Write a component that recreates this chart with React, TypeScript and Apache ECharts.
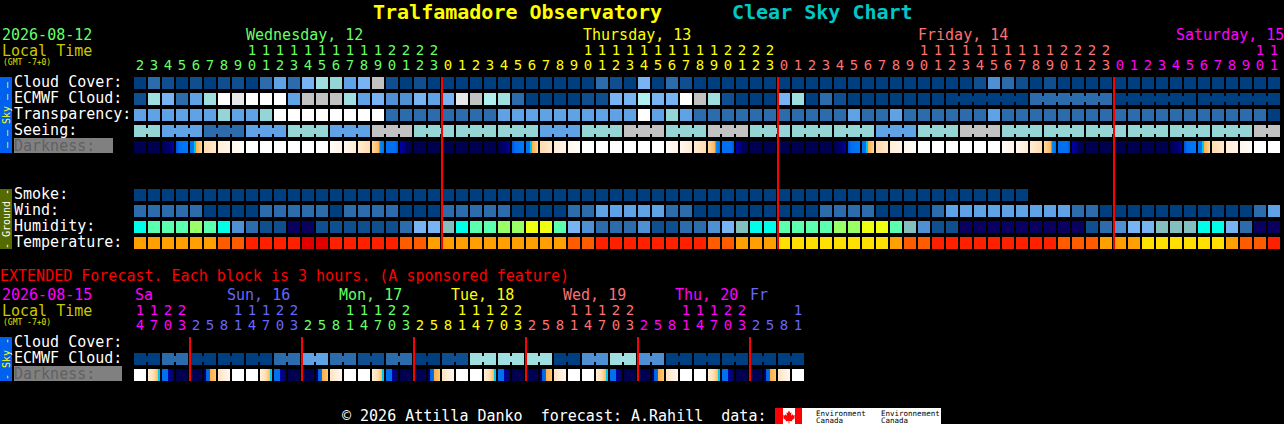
import React, { useEffect, useRef } from "react";
import * as echarts from "echarts";

// ---- main forecast: hourly values, index into cellFills ----
const mainHours = [
  2,3,4,5,6,7,8,9,10,11,12,13,14,15,16,17,18,19,20,21,22,23,
  0,1,2,3,4,5,6,7,8,9,10,11,12,13,14,15,16,17,18,19,20,21,22,23,
  0,1,2,3,4,5,6,7,8,9,10,11,12,13,14,15,16,17,18,19,20,21,22,23,
  0,1,2,3,4,5,6,7,8,9,10,11,
];
const mainDayLengths = [22, 24, 24, 12];
const mainDayColors = ["#66ff66", "#ffff00", "#ff7070", "#ff00ff"];
const mainRows = ["Cloud Cover:", "ECMWF Cloud:", "Transparency:", "Seeing:", "Darkness:", "", "", "Smoke:", "Wind:", "Humidity:", "Temperature:"];

const cloudCover = [
  0,2,1,0,1,0,1,1,0,2,4,2,5,7,6,4,5,9,1,0,1,0,
  0,0,0,0,0,0,0,0,0,0,0,2,1,0,5,0,2,1,0,0,0,0,0,0,
  0,0,0,0,0,0,0,0,0,0,0,0,0,0,1,3,2,1,0,1,0,0,0,0,
  0,0,0,0,0,0,0,0,0,0,0,0,
];
const ecmwfCloud = [
  1,7,5,2,4,7,11,10,11,11,11,4,9,9,9,7,4,5,3,3,5,4,
  5,10,9,8,7,2,0,0,0,0,1,1,5,5,8,5,5,11,9,7,1,0,0,0,
  5,7,0,2,1,0,0,0,0,0,0,0,0,0,0,0,0,0,2,2,2,2,2,2,
  0,0,0,0,0,0,0,0,0,0,0,0,
];
const transparency = [
  4,4,4,4,4,4,6,4,4,6,11,11,11,11,11,11,11,11,2,2,2,2,
  2,2,2,2,4,4,4,4,4,4,4,4,4,4,11,4,6,4,2,2,2,2,2,2,
  2,2,2,2,2,4,2,2,4,2,2,2,2,2,2,4,2,2,2,2,2,2,2,2,
  2,2,2,2,2,2,2,2,2,2,2,0,
];
const seeing = [
  6,6,4,4,4,2,2,2,4,4,4,6,6,6,4,4,4,9,9,9,6,6,
  6,6,6,6,6,6,6,4,4,4,6,6,6,9,9,9,6,6,6,9,9,9,6,6,
  6,6,6,6,6,6,6,4,4,4,6,6,6,9,9,9,6,6,6,6,6,6,6,6,
  6,6,6,6,6,6,6,6,6,6,9,9,
];
const darkness = [
  23,23,24,25,26,27,28,29,30,30,30,30,30,30,31,32,33,34,35,36,23,23,
  23,23,23,23,24,25,26,27,28,29,30,30,30,30,30,30,31,32,33,34,35,36,23,23,
  23,23,23,23,24,25,26,27,28,29,30,30,30,30,30,30,31,32,33,34,35,36,23,23,
  23,23,23,23,24,25,26,27,28,29,30,30,
];
const smoke = [
  0,0,0,0,0,0,0,0,0,0,0,0,0,0,0,0,0,0,0,0,0,0,
  0,0,0,0,0,0,0,0,0,0,0,0,0,0,0,0,0,0,0,0,0,0,0,0,
  0,0,0,0,0,0,0,0,0,0,0,0,0,0,0,0,0,0,
];
const wind = [
  2,2,2,2,2,0,0,0,0,2,2,2,2,2,0,2,2,2,2,0,0,0,
  2,2,2,2,2,0,0,0,0,2,2,4,4,4,4,4,2,2,0,0,0,0,0,0,
  0,0,0,2,2,2,2,0,0,0,0,2,4,4,4,4,4,4,4,4,4,2,2,0,
  0,0,0,0,0,0,0,0,0,0,2,4,
];
const humidity = [
  13,14,14,14,15,14,13,3,2,1,1,12,12,1,1,1,1,1,1,2,5,5,
  17,13,14,14,15,15,16,16,14,5,3,2,2,2,3,1,1,2,2,3,5,17,13,13,
  14,14,14,14,15,15,16,16,14,17,3,1,1,12,12,12,12,12,12,12,12,12,1,2,
  3,5,5,17,17,17,13,13,5,2,12,12,
];
const temperature = [
  18,18,18,18,18,18,19,19,20,20,20,20,21,21,20,20,20,20,20,19,19,18,
  18,18,18,18,18,18,18,18,18,19,19,20,20,20,20,20,20,20,20,19,19,18,18,18,
  22,22,22,22,22,22,22,22,18,19,19,20,20,20,20,20,20,20,20,20,19,19,19,18,
  18,18,22,22,22,22,22,22,18,19,19,20,
];
const seeingBlockStarts = [0,2,5,8,11,14,17,20,23,26,29,32,35,38,41,44,47,50,53,56,59,62,65,68,71,74,77,80];
const ecmwfBlockStarts = [58,64,70,76];
const midnightColumns = [22,46,70];

// ---- extended forecast: 3-hourly values ----
const extHours = [
  14,17,20,23,
  2,5,8,11,14,17,20,23,
  2,5,8,11,14,17,20,23,
  2,5,8,11,14,17,20,23,
  2,5,8,11,14,17,20,23,
  2,5,8,11,14,17,20,23,
  2,5,8,11,
];
const extDayLengths = [4,8,8,8,8,8,4];
const extDayColors = ["#ff00ff", "#6666ff", "#66ff66", "#ffff00", "#ff7070", "#ff00ff", "#6666ff"];
const extRows = ["Cloud Cover:", "ECMWF Cloud:", "Darkness:"];
const extEcmwf = [
  0,0,2,2,0,0,0,0,0,0,2,2,4,4,2,2,1,1,2,2,0,0,1,1,
  7,7,7,7,7,7,0,0,3,3,7,7,3,3,0,0,0,0,0,0,0,0,0,0,
];
const extDarkness = [
  30,37,38,23,23,39,40,30,30,37,38,23,23,39,40,30,30,37,38,23,23,39,40,30,
  30,37,38,23,23,39,40,30,30,37,38,23,23,39,40,30,30,37,38,23,23,39,40,30,
];
const extBlockStarts = [0,2,4,6,8,10,12,14,16,18,20,22,24,26,28,30,32,34,36,38,40,42,44,46];
const extMidnightColumns = [4,12,20,28,36,44];

// ---- labels ----
const mainDayLabels = [
  { text: "Wednesday, 12", x: 246, color: "#66ff66" },
  { text: "Thursday, 13", x: 583, color: "#ffff00" },
  { text: "Friday, 14", x: 918, color: "#ff7070" },
  { text: "Saturday, 15", x: 1176, color: "#ff00ff" },
];
const extDayLabels = [
  { text: "Sa", x: 135, color: "#ff00ff" },
  { text: "Sun, 16", x: 227, color: "#6666ff" },
  { text: "Mon, 17", x: 339, color: "#66ff66" },
  { text: "Tue, 18", x: 451, color: "#ffff00" },
  { text: "Wed, 19", x: 563, color: "#ff7070" },
  { text: "Thu, 20", x: 675, color: "#ff00ff" },
  { text: "Fr", x: 750, color: "#6666ff" },
];

// ---- colours ----
type Stop = [number, string];
const cellFills: (string | Stop[])[] = [
  "#003f7f", "#0f4f8f", "#2c6cad", "#4e90d3", "#5fa2e6", "#78b4f4", "#95d5d5", "#9fdfdf", "#afefef", "#c2c2c2", "#e8e8e8", "#ffffff",
  "#0a0060", "#00ffe8", "#5affb0", "#99ff66", "#eeff11", "#84bfbf",
  "#ffa000", "#ff5c00", "#ff2000", "#e00000", "#ffe000",
  "#000050",
  [[0, "#000050"], [0.6, "#000070"], [1, "#0000a8"]],
  [[0, "#0050d8"], [0.25, "#0070f0"], [1, "#0078f4"]],
  [[0, "#0070f0"], [0.36, "#0078f0"], [0.37, "#00c4f0"], [0.5, "#00c8f0"], [0.51, "#ffb040"], [0.75, "#ffc070"], [1, "#ffd8a0"]],
  [[0, "#ffdcb0"], [1, "#ffe8c8"]],
  [[0, "#ffeed8"], [1, "#fff4e6"]],
  [[0, "#fff6ec"], [1, "#fffcf8"]],
  "#ffffff",
  [[0, "#fffcf8"], [1, "#fff4e8"]],
  [[0, "#fff8f0"], [1, "#ffecd4"]],
  [[0, "#ffecd0"], [1, "#ffdcb0"]],
  [[0, "#ffd8a0"], [0.4, "#ffc070"], [0.62, "#ffb040"], [0.63, "#0090f0"], [1, "#0070f0"]],
  [[0, "#0070f0"], [0.8, "#0070f0"], [1, "#0050d8"]],
  [[0, "#0000a8"], [0.3, "#000090"], [0.5, "#000060"], [1, "#000050"]],
  [[0, "#fff0dc"], [0.5, "#ffdcb0"], [0.75, "#ffc070"], [0.85, "#ffb040"], [0.86, "#00c8e0"], [1, "#00c8f0"]],
  [[0, "#0070f0"], [0.5, "#0070f0"], [0.52, "#0000a0"], [1, "#000060"]],
  [[0, "#000060"], [0.16, "#000060"], [0.17, "#0060e8"], [0.5, "#0070f0"], [0.51, "#ffb040"], [1, "#ffc878"]],
  [[0, "#ffe4c0"], [1, "#fff8f0"]],
];

const MONO = '"DejaVu Sans Mono"';

function dayColorList(lengths: number[], colors: string[]) {
  const out: string[] = [];
  lengths.forEach((n, i) => {
    for (let k = 0; k < n; k++) out.push(colors[i]);
  });
  return out;
}

function joinedSet(starts: number[], total: number) {
  const set = new Set<number>();
  starts.forEach((s, i) => {
    const end = i + 1 < starts.length ? starts[i + 1] : total;
    for (let c = s; c < end - 1; c++) set.add(c);
  });
  return set;
}

function rowData(values: number[], row: number, joined?: Set<number>) {
  return values.map((v, c) => [c, row, v, joined && joined.has(c) ? 1 : 0]);
}

function renderCell(_: any, api: any) {
  const col = api.value(0);
  const row = api.value(1);
  const spec = cellFills[api.value(2)];
  const fill =
    typeof spec === "string"
      ? spec
      : new echarts.graphic.LinearGradient(0, 0, 1, 0, spec.map(([offset, color]) => ({ offset, color })));
  const [cx, cy] = api.coord([col, row]);
  const [bw, bh] = api.size([1, 1]);
  const children: any[] = [
    { type: "rect", shape: { x: cx - bw / 2 + 1, y: cy - bh / 2 + 2, width: bw - 2, height: bh - 4 }, style: { fill } },
  ];
  if (api.value(3)) {
    children.push({ type: "rect", shape: { x: cx + bw / 2 - 1, y: cy - 3, width: 2, height: 6 }, style: { fill } });
  }
  return { type: "group", children };
}

function redLineRenderer(lastRow: number) {
  return (_: any, api: any) => {
    const col = api.value(0);
    const [cx, top] = api.coord([col, 0]);
    const [, bottom] = api.coord([col, lastRow]);
    const [bw, bh] = api.size([1, 1]);
    return {
      type: "rect",
      shape: { x: cx - bw / 2, y: top - bh / 2 + 2, width: 2, height: bottom - top + bh - 4 },
      style: { fill: "#ff0000" },
    };
  };
}

function text(t: string, x: number, y: number, fill: string, size = 15, weight = "normal") {
  return {
    type: "text",
    x,
    y,
    silent: true,
    style: { text: t, fill, font: `${weight} ${size}px ${MONO}`, align: "left", verticalAlign: "middle" },
  };
}

function vText(t: string, x: number, y: number, fill: string) {
  return {
    type: "text",
    x,
    y,
    rotation: Math.PI / 2,
    silent: true,
    style: { text: t, fill, font: `normal 10px ${MONO}`, align: "center", verticalAlign: "middle" },
  };
}

function box(x: number, y: number, width: number, height: number, fill: string) {
  return { type: "rect", silent: true, shape: { x, y, width, height }, style: { fill } };
}

function xAxisFor(hours: number[], colors: string[], gridIndex: number) {
  return {
    type: "category",
    gridIndex,
    position: "top",
    data: hours.map(String),
    axisLine: { show: false },
    axisTick: { show: false },
    splitLine: { show: false },
    axisLabel: {
      interval: 0,
      margin: 3,
      fontFamily: MONO,
      fontSize: 14,
      lineHeight: 15,
      color: (_: any, i: number) => colors[i],
      formatter: (v: string) => (v.length > 1 ? `${v[0]}\n${v[1]}` : v),
    },
  };
}

function yAxisFor(rows: string[], gridIndex: number) {
  return {
    type: "category",
    gridIndex,
    inverse: true,
    data: rows,
    axisLine: { show: false },
    axisTick: { show: false },
    splitLine: { show: false },
    axisLabel: {
      interval: 0,
      margin: 119,
      align: "left",
      verticalAlign: "bottom",
      lineHeight: 3,
      fontFamily: MONO,
      fontSize: 15,
      color: (v: string) => (v === "Darkness:" ? "#606060" : "#ffffff"),
    },
  };
}

function cellSeries(axisIndex: number, data: any[]) {
  return {
    type: "custom",
    xAxisIndex: axisIndex,
    yAxisIndex: axisIndex,
    silent: true,
    clip: false,
    encode: { x: 0, y: 1 },
    renderItem: renderCell,
    data,
    z: 2,
  };
}

function lineSeries(axisIndex: number, columns: number[], lastRow: number) {
  return {
    type: "custom",
    xAxisIndex: axisIndex,
    yAxisIndex: axisIndex,
    silent: true,
    clip: false,
    encode: { x: 0, y: 1 },
    renderItem: redLineRenderer(lastRow),
    data: columns.map((c) => [c, 0]),
    z: 5,
  };
}

const leafPoints = [
  [789,410.5],[790.3,413],[791.6,412.4],[791,415.7],[792.8,414.3],[793.3,415.5],[795,415.2],[794.3,417.5],[795,418],
  [792,420.3],[792.3,421.3],[789.4,421],[789.4,423.5],[788.6,423.5],[788.6,421],[785.7,421.3],[786,420.3],[783,418],
  [783.7,417.5],[783,415.2],[784.7,415.5],[785.2,414.3],[787,415.7],[786.4,412.4],[787.7,413],
];

export default function App() {
  const ref = useRef<HTMLDivElement>(null);
  useEffect(() => {
    document.body.style.margin = "0";
    document.body.style.background = "#000";
    const chart = echarts.init(ref.current!, undefined, { renderer: "svg" });
    const mainCells = [
      ...rowData(cloudCover, 0),
      ...rowData(ecmwfCloud, 1, joinedSet(ecmwfBlockStarts, ecmwfCloud.length)),
      ...rowData(transparency, 2),
      ...rowData(seeing, 3, joinedSet(seeingBlockStarts, seeing.length)),
      ...rowData(darkness, 4),
      ...rowData(smoke, 7),
      ...rowData(wind, 8),
      ...rowData(humidity, 9),
      ...rowData(temperature, 10),
    ];
    const extCells = [
      ...rowData(extEcmwf, 1, joinedSet(extBlockStarts, extEcmwf.length)),
      ...rowData(extDarkness, 2),
    ];
    chart.setOption({
      animation: false,
      backgroundColor: "#000000",
      tooltip: { show: false },
      grid: [
        { left: 133, top: 75, width: mainHours.length * 14, height: mainRows.length * 16 },
        { left: 133, top: 335, width: extHours.length * 14, height: extRows.length * 16 },
      ],
      xAxis: [
        xAxisFor(mainHours, dayColorList(mainDayLengths, mainDayColors), 0),
        xAxisFor(extHours, dayColorList(extDayLengths, extDayColors), 1),
      ],
      yAxis: [yAxisFor(mainRows, 0), yAxisFor(extRows, 1)],
      series: [
        cellSeries(0, mainCells),
        cellSeries(1, extCells),
        lineSeries(0, midnightColumns, mainRows.length - 1),
        lineSeries(1, extMidnightColumns, extRows.length - 1),
      ],
      graphic: {
        elements: [
          text("Tralfamadore Observatory", 373, 12, "#ffff00", 20, "bold"),
          text("Clear Sky Chart", 732, 12, "#00c8c8", 20, "bold"),
          text("2026-08-12", 2, 34.5, "#66ff66"),
          text("Local Time", 2, 50.5, "#c8c800"),
          text("(GMT -7+0)", 3, 62, "#e0e000", 8),
          ...mainDayLabels.map((d) => text(d.text, d.x, 35, d.color)),
          box(0, 77, 12, 76, "#0060f0"),
          vText("— — Sky — —", 6, 115, "#ffff00"),
          box(0, 189, 12, 60, "#556b00"),
          vText("- Ground -", 6, 219, "#ffffff"),
          box(14, 138, 99, 15, "#808080"),
          text("EXTENDED Forecast. Each block is 3 hours. (A sponsored feature)", 0, 276, "#ff0000"),
          text("2026-08-15", 2, 294.5, "#ff00ff"),
          text("Local Time", 2, 310.5, "#c8c800"),
          text("(GMT -7+0)", 3, 322, "#e0e000", 8),
          ...extDayLabels.map((d) => text(d.text, d.x, 295, d.color)),
          box(0, 337, 12, 44, "#0060f0"),
          vText("- Sky -", 6, 359, "#ffff00"),
          box(14, 366, 108, 15, "#808080"),
          text("© 2026 Attilla Danko  forecast: A.Rahill  data:", 342, 416, "#ffffff"),
          box(775, 408, 166, 16, "#ffffff"),
          box(775, 408, 8, 16, "#ff0000"),
          box(795, 408, 7, 16, "#ff0000"),
          { type: "polygon", silent: true, shape: { points: leafPoints }, style: { fill: "#ff0000" } },
          text("Environment", 816, 413, "#000000", 7.5),
          text("Canada", 816, 420.5, "#000000", 7.5),
          text("Environnement", 881, 413, "#000000", 7.5),
          text("Canada", 881, 420.5, "#000000", 7.5),
        ],
      },
    });
    return () => chart.dispose();
  }, []);
  return <div ref={ref} style={{ position: "absolute", left: 0, top: 0, width: 1284, height: 424, overflow: "hidden" }} />;
}
